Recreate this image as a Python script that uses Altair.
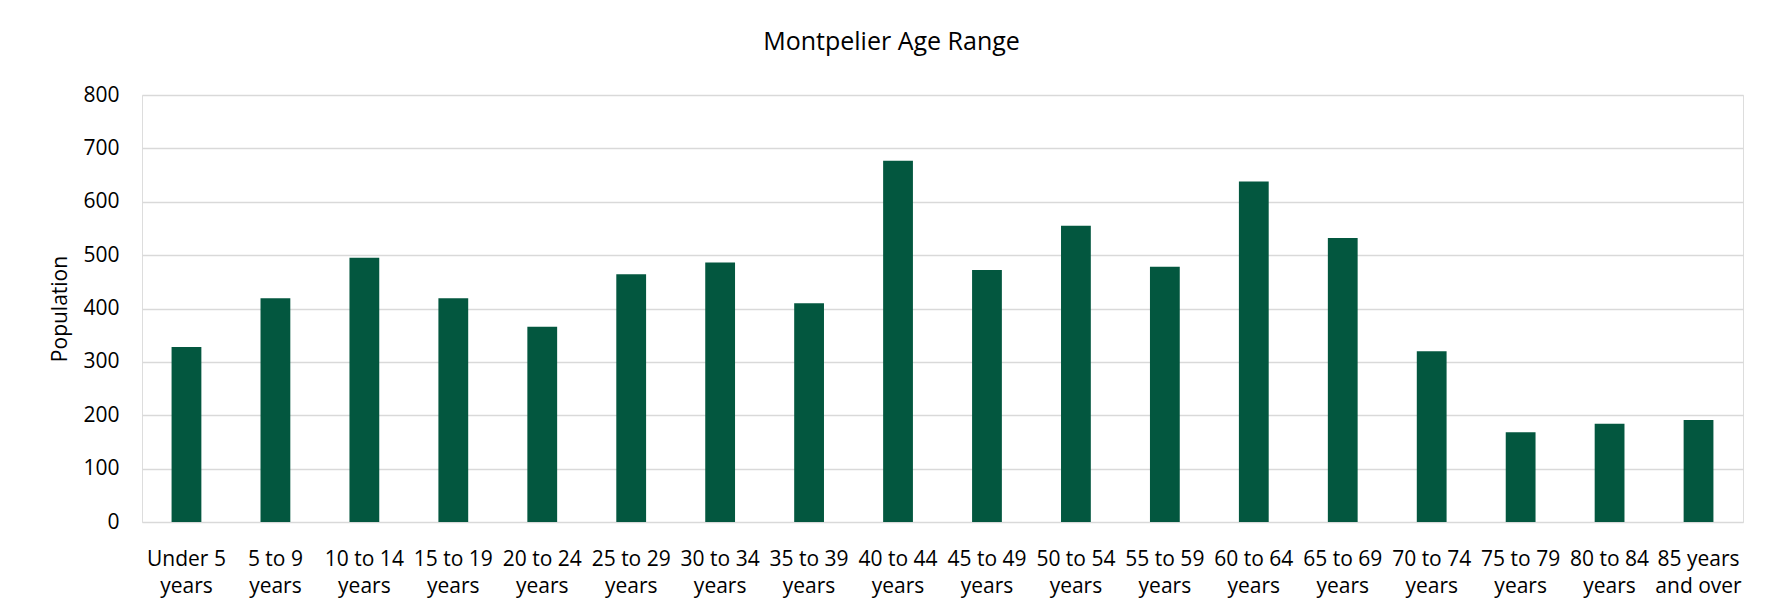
import altair as alt
import pandas as pd

categories = [
    "Under 5 years", "5 to 9 years", "10 to 14 years", "15 to 19 years",
    "20 to 24 years", "25 to 29 years", "30 to 34 years", "35 to 39 years",
    "40 to 44 years", "45 to 49 years", "50 to 54 years", "55 to 59 years",
    "60 to 64 years", "65 to 69 years", "70 to 74 years", "75 to 79 years",
    "80 to 84 years", "85 years and over",
]
population = [328, 419, 495, 419, 366, 464, 486, 410, 677, 472, 555, 478,
              638, 532, 320, 168, 184, 191]
y_ticks = [0, 100, 200, 300, 400, 500, 600, 700, 800]

df = pd.DataFrame({"Age": categories, "Population": population})

FONT = "Open Sans"

label_expr = (
    "datum.label == '85 years and over' ? ['85 years', 'and over'] : "
    "[slice(datum.label, 0, -6), 'years']"
)

chart = (
    alt.Chart(df)
    .mark_bar(color="#03573f")
    .encode(
        x=alt.X(
            "Age:N",
            sort=categories,
            scale=alt.Scale(paddingInner=0.665, paddingOuter=0.3325),
            axis=alt.Axis(
                title=None,
                labelAngle=0,
                labelExpr=label_expr,
                labelFont=FONT,
                labelFontSize=21,
                labelColor="#000000",
                labelPadding=37,
                labelLineHeight=27,
                labelBaseline="middle",
                ticks=False,
                domain=False,
                labelOverlap=False,
            ),
        ),
        y=alt.Y(
            "Population:Q",
            scale=alt.Scale(domain=[0, 800]),
            axis=alt.Axis(
                values=y_ticks,
                title="Population",
                titleFont=FONT,
                titleFontSize=21,
                titleFontWeight="normal",
                titleColor="#000000",
                titlePadding=12,
                labelFont=FONT,
                labelFontSize=21,
                labelColor="#000000",
                labelPadding=23,
                ticks=False,
                domain=False,
                gridColor="#d9d9d9",
                gridWidth=1.6,
            ),
        ),
    )
    .properties(
        width=1601,
        height=427,
        autosize=alt.AutoSizeParams(type="none"),
        padding={"left": 134, "top": 87, "right": 18, "bottom": 80},
        title=alt.TitleParams(
            "Montpelier Age Range",
            font=FONT,
            fontSize=25,
            fontWeight="normal",
            color="#000000",
            anchor="middle",
            dx=-51,
            offset=29,
        ),
    )
    .configure_view(stroke=None)
    .configure(background="#ffffff")
)

chart.save("out.html", embed_options={"renderer": "svg", "actions": False})
